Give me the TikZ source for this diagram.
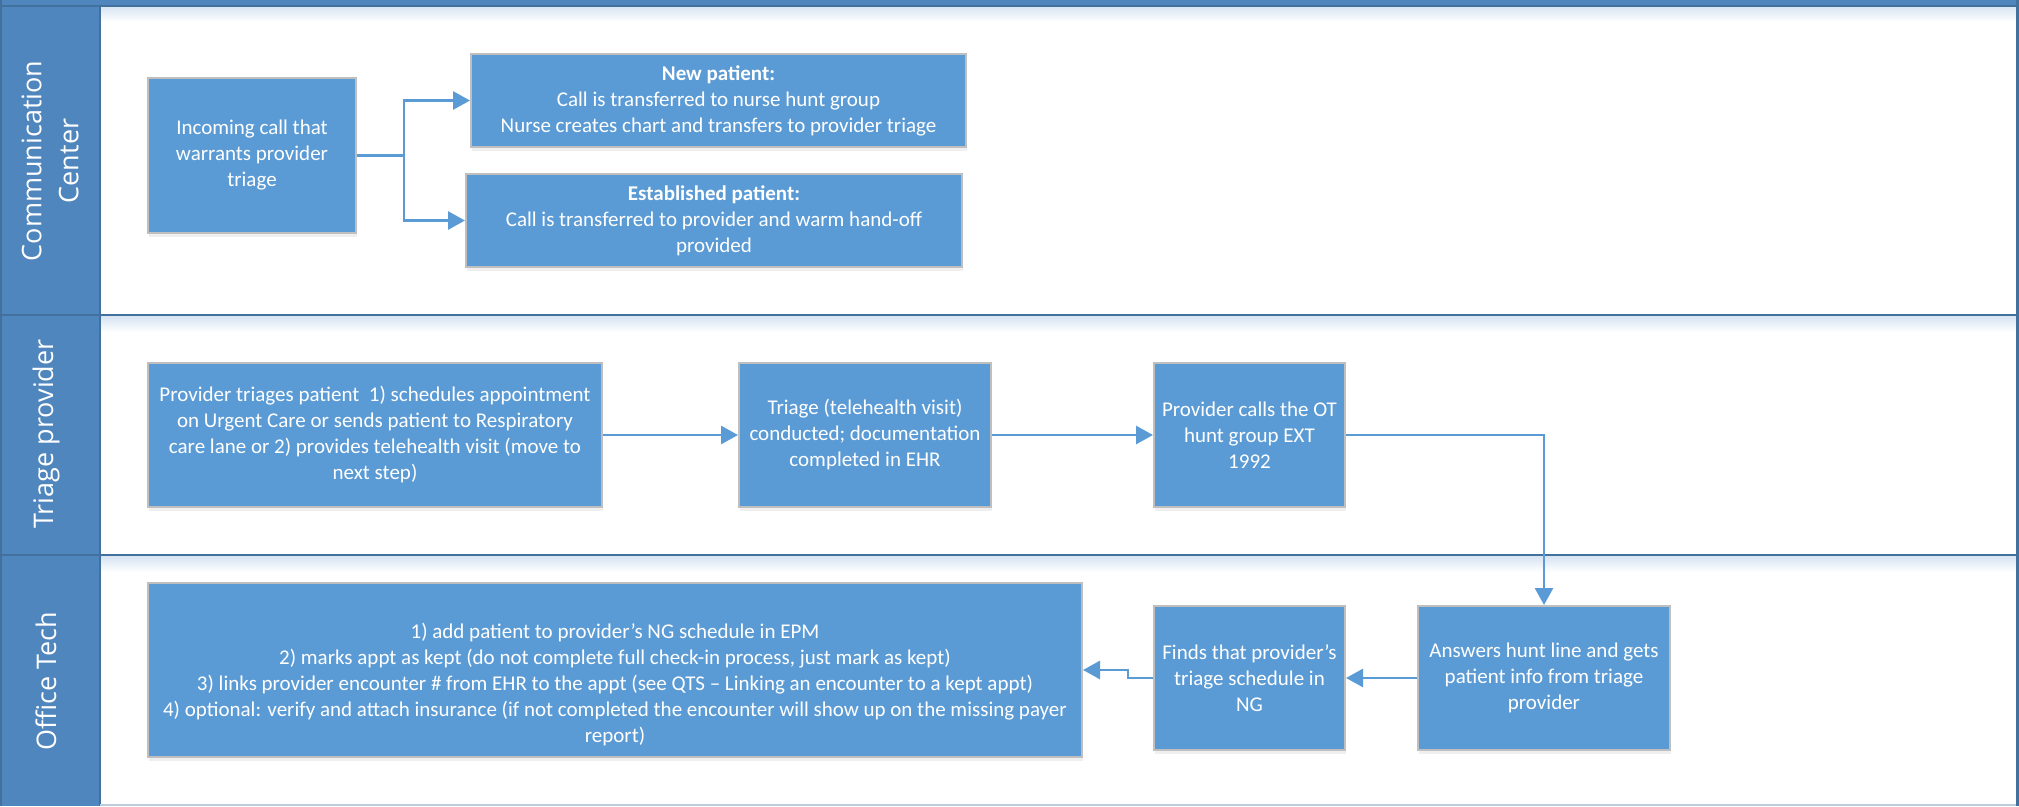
\documentclass[tikz,border=0pt]{standalone}
\usepackage{fontspec}
\setmainfont{Carlito}
\newfontfamily\hdrfont{Open Sans}
\usetikzlibrary{arrows.meta,shadows}
\definecolor{boxblue}{RGB}{91,155,213}
\definecolor{boxedge}{RGB}{191,191,191}
\definecolor{hdrblue}{RGB}{79,134,189}
\definecolor{lineblue}{RGB}{65,113,156}
\definecolor{shadeblue}{RGB}{214,228,242}
\definecolor{bottomline}{RGB}{190,205,222}
\begin{document}
\begin{tikzpicture}[x=1pt,y=-1pt,
  box/.style={draw=boxedge, line width=2pt, fill=boxblue, text=white, align=center,
    font=\fontsize{21}{26}\selectfont, inner sep=0pt,
    drop shadow={shadow xshift=1pt, shadow yshift=-4pt, opacity=0.12}},
  boxtext/.style={text=white, align=center, font=\fontsize{21}{26}\selectfont, inner sep=0pt},
  hdr/.style={rotate=90, text=white, align=center, font=\hdrfont\fontsize{27}{37}\selectfont},
  conn/.style={draw=boxblue, line width=2.8pt},
  arr/.style={conn, -{Triangle[length=17pt,width=18pt]}},
  sepline/.style={draw=lineblue, line width=2.5pt},
]
\useasboundingbox (0,0) rectangle (2019,806);
% background and lanes
\fill[white] (0,0) rectangle (2019,806);
\shade[top color=shadeblue, bottom color=white] (100,6) rectangle (2016,22);
\shade[top color=shadeblue, bottom color=white] (100,316) rectangle (2016,332);
\shade[top color=shadeblue, bottom color=white] (100,556) rectangle (2016,572);
\fill[hdrblue] (0,0) rectangle (2019,6);
\fill[hdrblue] (0,0) rectangle (100,806);
\draw[lineblue, line width=1.5pt] (0,6) -- (2017,6);
\draw[lineblue, line width=2pt] (100,6) -- (100,806);
\draw[lineblue, line width=2pt] (1,0) -- (1,806);
\draw[sepline] (0,315) -- (2017,315);
\draw[sepline] (0,555) -- (2017,555);
\draw[bottomline, line width=2pt] (100,805) -- (2017,805);
\draw[lineblue, line width=3pt] (2017.5,0) -- (2017.5,806);
% lane headers
\node[hdr] (h1) at (50,161) {Communication\\Center};
\node[hdr] (h2) at (46,434) {Triage provider};
\node[hdr] (h3) at (46,681) {Office Tech};
% boxes
\node[box, minimum width=208pt, minimum height=155pt] (inc) at (252,155.5)
  {Incoming call that\\warrants provider\\triage};
\node[box, minimum width=495pt, minimum height=93pt] (newp) at (718.5,100.5)
  {\textbf{New patient:}\\Call is transferred to nurse hunt group\\Nurse creates chart and transfers to provider triage};
\node[box, minimum width=496pt, minimum height=93pt] (estp) at (714,220.5)
  {\textbf{Established patient:}\\Call is transferred to provider and warm hand-off\\provided};
\node[box, minimum width=454pt, minimum height=144pt] (prov) at (375,435)
  {Provider triages patient\ \ 1) schedules appointment\\on Urgent Care or sends patient to Respiratory\\care lane or 2) provides telehealth visit (move to\\next step)};
\node[box, minimum width=252pt, minimum height=144pt] (tri) at (865,435)
  {Triage (telehealth visit)\\conducted; documentation\\completed in EHR};
\node[box, minimum width=191pt, minimum height=144pt] (call) at (1249.5,435)
  {Provider calls the OT\\hunt group EXT\\1992};
\node[box, minimum width=252pt, minimum height=144pt] (ans) at (1544,678)
  {Answers hunt line and gets\\patient info from triage\\provider};
\node[box, minimum width=191pt, minimum height=144pt] (finds) at (1249.5,678)
  {Finds that provider’s\\triage schedule in\\NG};
\node[box, minimum width=934pt, minimum height=174pt] (big) at (615,670) {};
\node[boxtext] (bigtxt) at (615,685)
  {1) add patient to provider’s NG schedule in EPM\\
   2) marks appt as kept (do not complete full check-in process, just mark as kept)\\
   3) links provider encounter \# from EHR to the appt (see QTS – Linking an encounter to a kept appt)\\
   4) optional: verify and attach insurance (if not completed the encounter will show up on the missing payer\\
   report)};
% connectors
\draw[conn] (inc.east) -- (404,155.5) coordinate (j1);
\draw[arr] (j1) |- (newp.west);
\draw[arr] (j1) |- (estp.west);
\draw[arr] (prov.east) -- (tri.west);
\draw[arr] (tri.east) -- (call.west);
\draw[arr] (call.east) -| (ans.north);
\draw[arr] (ans.west) -- (finds.east);
\draw[arr] (finds.west) -- ++(-25,0) |- (big.east);
\end{tikzpicture}
\end{document}
